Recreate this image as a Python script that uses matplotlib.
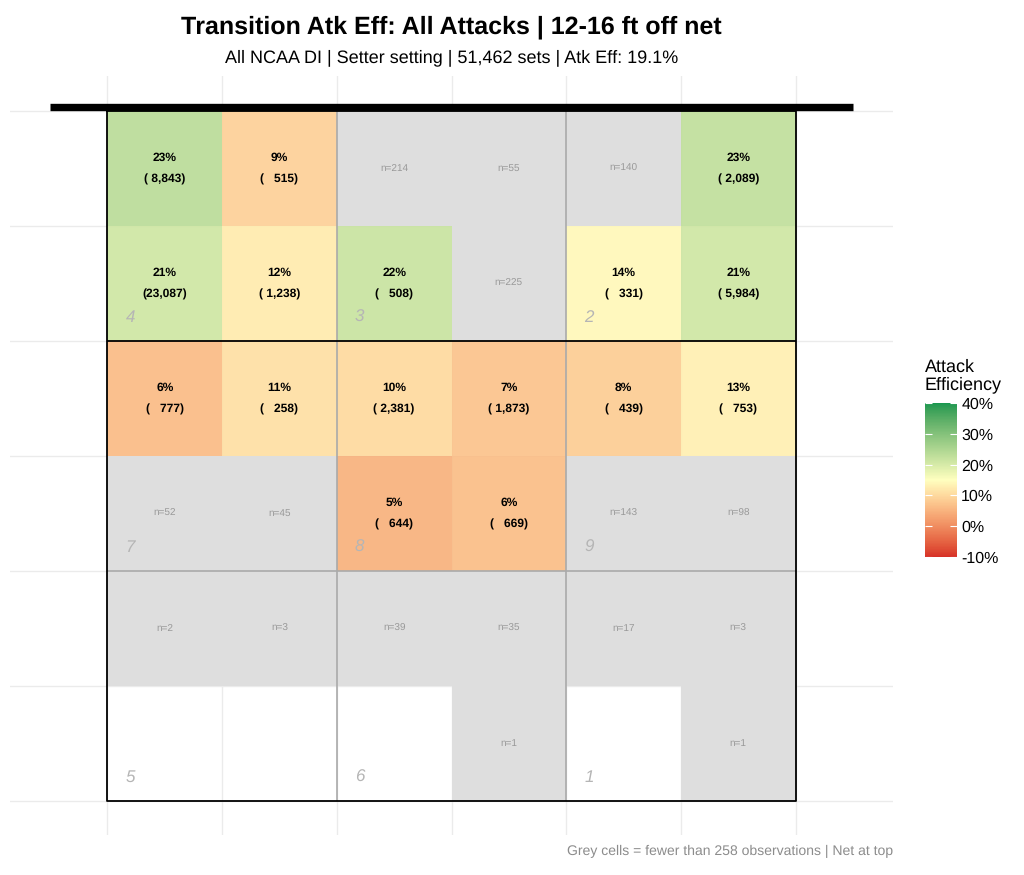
import numpy as np
import matplotlib
matplotlib.use("Agg")
import matplotlib.pyplot as plt
import matplotlib.colors as mcolors
from matplotlib.ticker import FuncFormatter

plt.rcParams["font.family"] = ["Liberation Sans", "DejaVu Sans"]
plt.rcParams["text.hinting"] = "no_hinting"
plt.rcParams["text.hinting_factor"] = 1

# court grid: 6 columns (left -> right) x 6 rows (net -> back)
col_pos = [0, 1, 2, 3, 4, 5]
row_pos = [0, 1, 2, 3, 4, 5]

# attack efficiency (%) per cell, nan where only the count is shown
eff = np.array([
    [23.4, 8.9, np.nan, np.nan, np.nan, 22.7],
    [21.0, 12.3, 21.8, np.nan, 14.2, 20.9],
    [6.2, 10.8, 10.1, 7.0, 8.2, 12.9],
    [np.nan, np.nan, 4.8, 6.4, np.nan, np.nan],
    [np.nan, np.nan, np.nan, np.nan, np.nan, np.nan],
    [np.nan, np.nan, np.nan, np.nan, np.nan, np.nan],
])

# number of sets per cell
n_sets = np.array([
    [8843, 515, 214, 55, 140, 2089],
    [23087, 1238, 508, 225, 331, 5984],
    [777, 258, 2381, 1873, 439, 753],
    [52, 45, 644, 669, 143, 98],
    [2, 3, 39, 35, 17, 3],
    [0, 0, 0, 1, 0, 1],
])

min_obs = 258
zones = [[4, 3, 2], [7, 8, 9], [5, 6, 1]]
cbar_ticks = [-10, 0, 10, 20, 30, 40]

title = "Transition Atk Eff: All Attacks | 12-16 ft off net"
subtitle = "All NCAA DI | Setter setting | 51,462 sets | Atk Eff: 19.1%"
caption = "Grey cells = fewer than 258 observations | Net at top"


# diverging gradient interpolated in CIELAB (like ggplot's gradient2)
M = np.array([[0.4124, 0.3576, 0.1805],
              [0.2126, 0.7152, 0.0722],
              [0.0193, 0.1192, 0.9505]])
WHITE = np.array([0.95047, 1.0, 1.08883])


def hex_to_lab(h):
    rgb = np.array(mcolors.to_rgb(h))
    lin = np.where(rgb <= 0.04045, rgb / 12.92, ((rgb + 0.055) / 1.055) ** 2.4)
    xyz = M @ lin / WHITE
    f = np.where(xyz > 0.008856, np.cbrt(xyz), 7.787 * xyz + 16 / 116)
    return np.array([116 * f[1] - 16, 500 * (f[0] - f[1]), 200 * (f[1] - f[2])])


def lab_to_rgb(lab):
    fy = (lab[0] + 16) / 116
    f = np.array([fy + lab[1] / 500, fy, fy - lab[2] / 200])
    xyz = np.where(f ** 3 > 0.008856, f ** 3, (f - 16 / 116) / 7.787) * WHITE
    lin = np.linalg.inv(M) @ xyz
    lin = np.clip(lin, 0, 1)
    rgb = np.where(lin <= 0.0031308, 12.92 * lin, 1.055 * lin ** (1 / 2.4) - 0.055)
    return np.clip(rgb, 0, 1)


lo, mid, hi = hex_to_lab("#d73027"), hex_to_lab("#ffffbf"), hex_to_lab("#1a9850")
ramp = []
for t in np.linspace(0, 1, 256):
    if t <= 0.5:
        lab = lo + (mid - lo) * (t / 0.5)
    else:
        lab = mid + (hi - mid) * ((t - 0.5) / 0.5)
    ramp.append(lab_to_rgb(lab))
cmap = mcolors.ListedColormap(ramp)

fig = plt.figure(figsize=(10.24, 8.75), dpi=100)
ax = fig.add_axes([10 / 1024, 40 / 875, 883 / 1024, 759 / 875])

xe = np.arange(7)
ye = np.arange(7)
shown = np.ma.masked_where(n_sets < min_obs, eff)
few = np.ma.masked_where((n_sets >= min_obs) | (n_sets == 0), np.ones_like(eff))
ax.pcolormesh(xe, ye, few, cmap=mcolors.ListedColormap(["#dedede"]), zorder=1)
mesh = ax.pcolormesh(xe, ye, shown, cmap=cmap, vmin=-10, vmax=40, alpha=0.92, zorder=1)

# cell labels
for i in row_pos:
    for j in col_pos:
        n = n_sets[i, j]
        if n == 0:
            continue
        cx, cy = j + 0.5, i + 0.5
        if n >= min_obs:
            ax.text(cx, cy - 0.085, f"{eff[i, j]:.0f}%", ha="center", va="center",
                    fontsize=8.7, fontweight="bold", color="black", zorder=5)
            ax.text(cx, cy + 0.095, f"({n:>6,})", ha="center", va="center",
                    fontsize=8.7, fontweight="bold", color="black", zorder=5)
        else:
            ax.text(cx, cy, f"n={n}", ha="center", va="center",
                    fontsize=7, color="#999999", zorder=5)

# zone numbers
for zi, zrow in enumerate(zones):
    for zj, z in enumerate(zrow):
        ax.text(2 * zj + 0.2, 2 * zi + 1.8, str(z), ha="center", va="center",
                fontsize=12.5, style="italic", color="#b5b5b5", zorder=5)

# zone lines, attack line, court outline, net
ax.vlines([2, 4], 0, 6, color="#aaaaaa", lw=1.2, zorder=3)
ax.hlines([4], 0, 6, color="#aaaaaa", lw=1.2, zorder=3)
ax.hlines([2], 0, 6, color="black", lw=1.3, zorder=4)
ax.plot([0, 6, 6, 0, 0], [0, 0, 6, 6, 0], color="black", lw=1.3, zorder=4)
ax.plot([-0.5, 6.5], [-0.03, -0.03], color="black", lw=5.3, solid_capstyle="butt", zorder=6)

ax.set_xlim(-0.85, 6.85)
ax.set_ylim(6.3, -0.3)
ax.set_xticks(range(7))
ax.set_yticks(range(7))
ax.grid(True, color="#ebebeb", lw=1.0, zorder=0)
ax.set_axisbelow(True)
ax.tick_params(length=0, labelbottom=False, labelleft=False)
for s in ax.spines.values():
    s.set_visible(False)

# colour bar
cax = fig.add_axes([925 / 1024, 318 / 875, 32 / 1024, 154 / 875])
cb = fig.colorbar(mesh, cax=cax, ticks=cbar_ticks,
                  format=FuncFormatter(lambda v, p: f"{v:.0f}%"))
cb.solids.set_alpha(1)
cb.outline.set_visible(False)
cax.yaxis.set_ticks_position("both")
cax.tick_params(direction="in", color="white", length=5, width=0.8,
                labelright=True, labelleft=False, labelsize=11.5, pad=3)
fig.text(925 / 1024, 1 - 393 / 875, "Attack\nEfficiency", ha="left", va="bottom",
         fontsize=13, linespacing=1.05)

fig.text(451.5 / 1024, 1 - 27 / 875, title, ha="center", va="center",
         fontsize=18, fontweight="bold")
fig.text(451.5 / 1024, 1 - 58 / 875, subtitle, ha="center", va="center", fontsize=13)
fig.text(893 / 1024, 1 - 851 / 875, caption, ha="right", va="center",
         fontsize=10.2, color="#8c8c8c")

fig.savefig("out.png", dpi=100)
